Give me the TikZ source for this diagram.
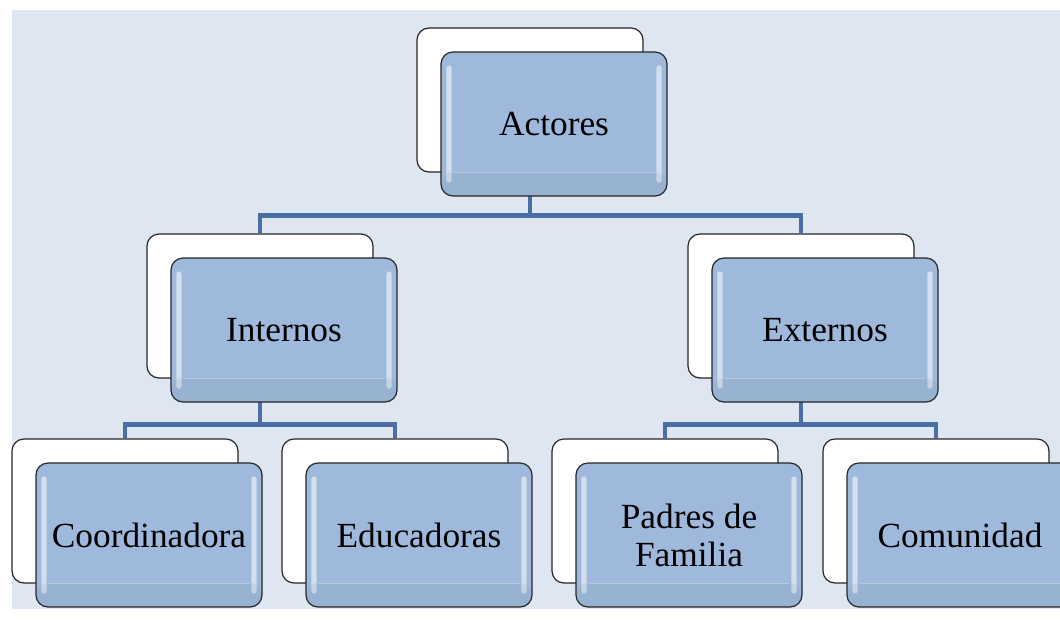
\documentclass[tikz,border=0pt]{standalone}
\usepackage{fontspec}
\setmainfont{Liberation Serif}
\usepackage{tikz}
\usetikzlibrary{positioning,backgrounds}
\definecolor{bgblue}{RGB}{221,230,241}
\definecolor{boxblue}{RGB}{158,185,219}
\definecolor{linkblue}{RGB}{72,110,163}
\tikzstyle{back}=[rectangle, rounded corners=9pt, draw=black!85, fill=white, line width=0.9pt, minimum width=169.5pt, minimum height=108pt, inner sep=0pt]
\tikzstyle{front}=[back, fill=boxblue, text=black, align=center, font=\fontsize{26.5}{28.5}\selectfont,
  path picture={
    \fill[white, opacity=.55, rounded corners=2pt] ([xshift=4pt,yshift=10pt]path picture bounding box.south west) rectangle ([xshift=8pt,yshift=-10pt]path picture bounding box.north west);
    \fill[white, opacity=.55, rounded corners=2pt] ([xshift=-8pt,yshift=10pt]path picture bounding box.south east) rectangle ([xshift=-4pt,yshift=-10pt]path picture bounding box.north east);
    \fill[black!30!boxblue, opacity=.12] (path picture bounding box.south west) rectangle ([yshift=18pt]path picture bounding box.south east);
    \draw[white, opacity=.3, line width=0.6pt] ([xshift=9pt,yshift=18pt]path picture bounding box.south west) -- ([xshift=-9pt,yshift=18pt]path picture bounding box.south east);
  }]
\tikzstyle{link}=[draw=linkblue, line width=3.6pt]

\begin{document}
\begin{tikzpicture}[x=0.75pt, y=-0.75pt]
        \useasboundingbox (0,0) rectangle (1060,619);

        % back cards
        \node (actB) [back] at (530,100) {};
        \node (intB) [back] at (260,306) {};
        \node (extB) [back] at (801,306) {};
        \node (cooB) [back] at (125,511) {};
        \node (eduB) [back] at (395,511) {};
        \node (padB) [back] at (665,511) {};
        \node (comB) [back] at (936,511) {};

        % front cards
        \node (act) [front] at ([shift={(24,24)}]actB) {Actores};
        \node (int) [front] at ([shift={(24,24)}]intB) {Internos};
        \node (ext) [front] at ([shift={(24,24)}]extB) {Externos};
        \node (coo) [front] at ([shift={(24,24)}]cooB) {Coordinadora};
        \node (edu) [front] at ([shift={(24,24)}]eduB) {Educadoras};
        \node (pad) [front] at ([shift={(24,24)}]padB) {Padres de\\Familia};
        \node (com) [front] at ([shift={(24,24)}]comB) {Comunidad};

        \begin{pgfonlayer}{background}
            \fill[bgblue] (12,10) rectangle (1060,609);
            \draw [link] (actB.south) -- ++(0,43) -| (intB.north);
            \draw [link] (actB.south) -- ++(0,43) -| (extB.north);
            \draw [link] (intB.south) -- ++(0,46) -| (cooB.north);
            \draw [link] (intB.south) -- ++(0,46) -| (eduB.north);
            \draw [link] (extB.south) -- ++(0,46) -| (padB.north);
            \draw [link] (extB.south) -- ++(0,46) -| (comB.north);
        \end{pgfonlayer}

    \end{tikzpicture}
\end{document}
